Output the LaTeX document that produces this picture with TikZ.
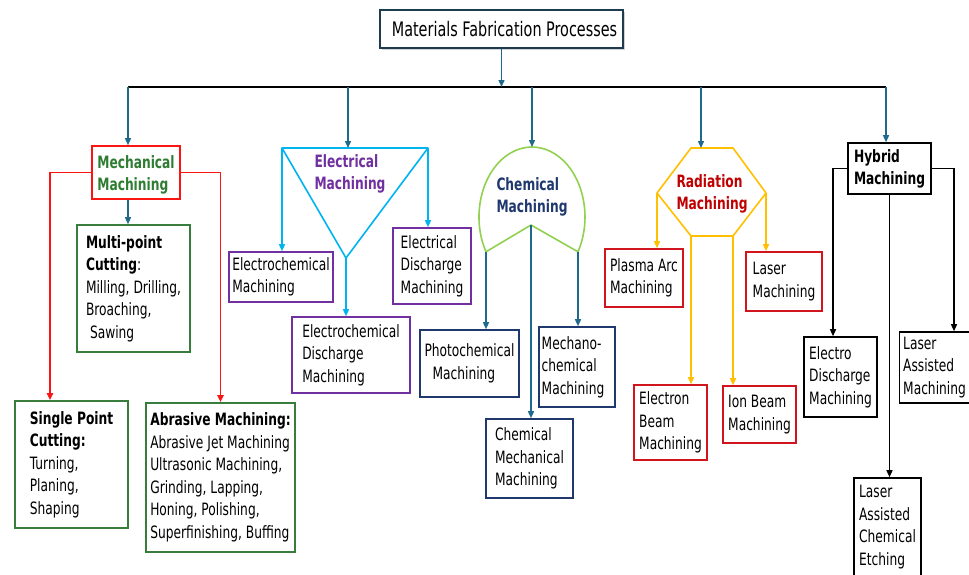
\documentclass[tikz,border=0pt]{standalone}
\usepackage{fontspec}
\setmainfont{DejaVu Sans}[FakeStretch=0.72]
\usetikzlibrary{arrows.meta,shadows}
\definecolor{flow}{RGB}{30,105,140}
\definecolor{titleframe}{RGB}{30,60,80}
\definecolor{mechred}{RGB}{250,20,20}
\definecolor{mechgreen}{RGB}{46,125,50}
\definecolor{boxgreen}{RGB}{56,125,60}
\definecolor{elecblue}{RGB}{0,180,240}
\definecolor{elecpurple}{RGB}{112,48,160}
\definecolor{chemgreen}{RGB}{146,208,80}
\definecolor{chemnavy}{RGB}{31,56,110}
\definecolor{radyellow}{RGB}{255,192,0}
\definecolor{radred}{RGB}{192,0,0}
\definecolor{radbox}{RGB}{210,20,30}
\begin{document}
\begin{tikzpicture}[x=1pt,y=-1pt,
  box/.style={draw=#1, line width=1.6pt, fill=white, align=left, inner sep=1pt,
              font=\fontsize{17}{22.5}\selectfont},
  head/.style={text=#1, font=\bfseries\fontsize{17}{22}\selectfont, align=left, inner sep=0pt},
  arr/.style={draw=#1, line width=1.4pt, -{Triangle[length=7pt,width=6pt]}},
]
\clip (0,0) rectangle (969,574);
\fill[white] (0,0) rectangle (969,574);

% ---------- root and bus ----------
\node[box=titleframe, drop shadow={shadow xshift=2pt, shadow yshift=-2pt, opacity=0.35},
      minimum width=243pt, minimum height=38pt, align=center,
      font=\fontsize{20}{24}\selectfont] (title) at (501.5,29) {\hspace*{6pt}Materials Fabrication Processes};
\coordinate (busL) at (128,87);
\coordinate (busR) at (886,87);
\coordinate (b1) at (128,87);
\coordinate (b2) at (348,87);
\coordinate (b3) at (532,87);
\coordinate (b4) at (701,87);
\coordinate (b5) at (886,87);
\draw[line width=2.4pt] (busL) -- (busR);
\draw[arr=flow] (title.south) -- (title.south |- busL);

% ---------- mechanical ----------
\node[box=mechred, minimum width=88pt, minimum height=53pt] (mech) at (136,172.5) {};
\node[head=mechgreen] (mechtext) at (136,175) {Mechanical\\Machining};
\node[box=boxgreen, minimum width=113pt, minimum height=127pt] (multi) at (133.5,288.5)
  {{\bfseries Multi-point}\\{\bfseries Cutting}:\\Milling, Drilling,\\Broaching,\\\hspace*{4pt}Sawing};
\node[box=boxgreen, minimum width=113pt, minimum height=127pt] (single) at (71.5,464.5)
  {{\bfseries Single Point}\\{\bfseries Cutting:}\\Turning,\\Planing,\\Shaping\hspace*{18pt}};
\node[box=boxgreen, minimum width=149pt, minimum height=149pt] (abr) at (220.5,477.5)
  {{\bfseries Abrasive Machining:}\\Abrasive Jet Machining\\Ultrasonic Machining,\\Grinding, Lapping,\\Honing, Polishing,\\Superfinishing, Buffing};
\coordinate (mL) at (50,172.5);
\coordinate (mR) at (220.5,172.5);
\draw[arr=flow] (b1) -- (b1 |- mech.north);
\draw[arr=flow] (b1 |- mech.south) -- (b1 |- multi.north);
\draw[arr=mechred, line width=1.8pt] (mech.west) -| (mL |- single.north);
\draw[arr=mechred, line width=1.8pt] (mech.east) -| (mR |- abr.north);

% ---------- electrical ----------
\coordinate (eT1) at (282,148);
\coordinate (eT2) at (428,148);
\coordinate (eA) at (346,258);
\draw[elecblue, line width=1.6pt, line join=round] (eT1) -- (eT2) -- (eA) -- cycle;
\node[head=elecpurple] (elec) at (350,174) {Electrical\\Machining};
\node[box=elecpurple, minimum width=104pt, minimum height=50pt] (ecm) at (281,277)
  {Electrochemical\\Machining};
\node[box=elecpurple, minimum width=78pt, minimum height=76pt] (edm) at (432,266)
  {Electrical\\Discharge\\Machining};
\node[box=elecpurple, minimum width=118pt, minimum height=76pt] (ecdm) at (351,355)
  {Electrochemical\\Discharge\\Machining};
\draw[arr=flow] (b2) -- (b2 |- eT1);
\draw[arr=elecblue] (eT1) -- (eT1 |- ecm.north);
\draw[arr=elecblue] (eT2) -- (eT2 |- edm.north);
\draw[arr=elecblue] (eA) -- (eA |- ecdm.north);

% ---------- chemical ----------
\coordinate (cT) at (532,147);
\coordinate (cL) at (486,251.8);
\coordinate (cR) at (578,251.8);
\coordinate (cN) at (531,225);
\draw[chemgreen, line width=1.6pt, line join=round]
  (cL) arc[start angle=209.8, end angle=-29.8, x radius=53pt, y radius=70pt] -- (cN) -- cycle;
\node[head=chemnavy] (chem) at (532,197) {Chemical\\Machining};
\node[box=chemnavy, minimum width=99pt, minimum height=67pt] (photo) at (469.5,363.5)
  {Photochemical\\\hspace*{8pt}Machining};
\node[box=chemnavy, minimum width=76pt, minimum height=80pt] (mechano) at (577,367)
  {Mechano-\\chemical\\Machining\hspace*{8pt}};
\node[box=chemnavy, minimum width=87pt, minimum height=79pt] (cmm) at (529.5,458.5)
  {Chemical\\Mechanical\\Machining};
\draw[arr=flow] (b3) -- (cT);
\draw[arr=flow] (cL) -- (cL |- photo.north);
\draw[arr=flow] (cN) -- (cN |- cmm.north);
\draw[arr=flow] (cR) -- (cR |- mechano.north);

% ---------- radiation ----------
\coordinate (h1) at (691,148);
\coordinate (h2) at (733,148);
\coordinate (h3) at (766,193);
\coordinate (h4) at (733,236);
\coordinate (h5) at (691,236);
\coordinate (h6) at (657,193);
\draw[radyellow, line width=1.6pt, line join=round] (h1) -- (h2) -- (h3) -- (h4) -- (h5) -- (h6) -- cycle;
\node[head=radred] (rad) at (712,194) {Radiation\\Machining};
\node[box=radbox, minimum width=78pt, minimum height=58pt] (pam) at (644,278)
  {Plasma Arc\\Machining};
\node[box=radbox, minimum width=76pt, minimum height=59pt] (lm) at (784,281.5)
  {Laser\\Machining};
\node[box=radbox, minimum width=73pt, minimum height=75pt] (ebm) at (670.5,422.5)
  {Electron\\Beam\\Machining};
\node[box=radbox, minimum width=73pt, minimum height=57pt] (ibm) at (759.5,414.5)
  {Ion Beam\\Machining};
\draw[arr=flow] (b4) -- (b4 |- h1);
\draw[arr=radyellow] (h6) -- (h6 |- pam.north);
\draw[arr=radyellow] (h3) -- (h3 |- lm.north);
\draw[arr=radyellow] (h5) -- (h5 |- ebm.north);
\draw[arr=radyellow] (h4) -- (h4 |- ibm.north);

% ---------- hybrid ----------
\node[box=black, minimum width=83pt, minimum height=51pt, font=\bfseries\fontsize{17}{22}\selectfont] (hyb) at (889.5,168.5)
  {Hybrid\\Machining};
\node[box=black, minimum width=73pt, minimum height=80pt] (edm2) at (840.5,377)
  {Electro\\Discharge\\Machining};
\node[box=black, minimum width=70pt, minimum height=71pt] (lam) at (934.5,367.5)
  {Laser\\Assisted\\Machining};
\node[box=black, minimum width=67pt, minimum height=98pt] (lace) at (887.5,527)
  {Laser\\Assisted\\Chemical\\Etching};
\coordinate (hL) at (833,168.5);
\coordinate (hR) at (954,168.5);
\draw[arr=flow] (b5) -- (b5 |- hyb.north);
\draw[arr=black] (hyb.west) -| (hL |- edm2.north);
\draw[arr=black] (hyb.east) -| (hR |- lam.north);
\draw[arr=black] (hyb.south) -- (hyb.south |- lace.north);
\end{tikzpicture}
\end{document}
